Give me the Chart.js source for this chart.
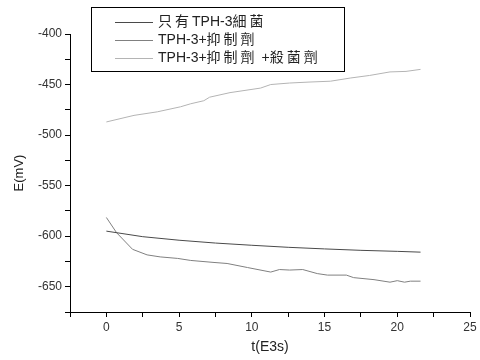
<!DOCTYPE html>
<html>
<head>
<meta charset="utf-8">
<script src="https://cdn.jsdelivr.net/npm/chart.js@4"></script>
<style>
  html, body { margin: 0; padding: 0; background: #fff; }
  #wrap { width: 480px; height: 360px; }
</style>
</head>
<body>
<div id="wrap"><canvas id="lineChart" width="480" height="360"></canvas></div>
<script>
// labels for the three runs
const seriesNames = ['只有TPH-3細菌', 'TPH-3+抑制劑', 'TPH-3+抑制劑 +殺菌劑'];

// only bacteria
const t1 = [0, 2.5, 5, 7.5, 10, 12.5, 15, 17.5, 20, 21.6];
const e1 = [-595, -600.5, -604, -606.8, -609, -611, -612.6, -614, -615, -615.8];

// + inhibitor
const t2 = [0, 0.7, 1.8, 2.8, 3.7, 4.9, 5.8, 7.4, 8.3, 9.7, 11.3, 11.9, 12.6, 13.5, 14.5, 15.2, 16.5, 17, 18.4, 19.5, 20, 20.5, 20.9, 21.6];
const e2 = [-581.5, -596.5, -613, -618.5, -620.5, -622, -624, -626, -627, -631, -635.5, -633, -633.5, -633, -637, -638.5, -638.5, -641, -643, -645.5, -644, -645.5, -644.5, -644.5];

// + inhibitor + biocide
const t3 = [0, 1.9, 3.5, 5.1, 5.8, 6.7, 7.1, 8.5, 10.6, 11.3, 12.6, 14, 15.4, 16.8, 18.1, 19.5, 20.6, 21.6];
const e3 = [-487, -480.5, -477, -472, -469, -466, -462.5, -458, -453.5, -450, -448.5, -447.5, -446.7, -443.5, -441, -437.5, -437, -435];

const lineColors = ['#4a4a4a', '#808080', '#b4b4b4'];

function toPoints(xs, ys) {
  return xs.map((x, i) => ({ x: x, y: ys[i] }));
}

const FONT = '"Liberation Sans", Arial, "Noto Sans CJK TC", sans-serif';

// legend box drawn in the upper left, like the original plot
const boxLegend = {
  id: 'boxLegend',
  afterDraw(chart) {
    const ctx = chart.ctx;
    ctx.save();
    ctx.fillStyle = '#fff';
    ctx.fillRect(91, 7, 253, 64);
    ctx.strokeStyle = '#000';
    ctx.lineWidth = 1;
    ctx.strokeRect(91.5, 7.5, 253, 64);
    const rows = [22, 40, 58];
    ctx.font = '14px ' + FONT;
    ctx.textBaseline = 'middle';
    seriesNames.forEach((name, i) => {
      ctx.strokeStyle = lineColors[i];
      ctx.beginPath();
      ctx.moveTo(115, rows[i] + 0.5);
      ctx.lineTo(153, rows[i] + 0.5);
      ctx.stroke();
      ctx.fillStyle = '#222';
      // the CJK glyphs in the original are spaced out a bit
      let x = 158;
      for (const ch of name) {
        ctx.fillText(ch, x, rows[i]);
        x += ctx.measureText(ch).width + (ch.charCodeAt(0) > 0x2e80 ? 3 : 0);
      }
    });
    ctx.restore();
  }
};

const myLineChart = document.getElementById('lineChart').getContext('2d');

new Chart(myLineChart, {
  type: 'scatter',
  data: {
    datasets: [
      { label: seriesNames[0], data: toPoints(t1, e1) },
      { label: seriesNames[1], data: toPoints(t2, e2) },
      { label: seriesNames[2], data: toPoints(t3, e3) }
    ].map((d, i) => Object.assign(d, {
      showLine: true,
      borderColor: lineColors[i],
      backgroundColor: lineColors[i],
      borderWidth: 1,
      pointRadius: 0,
      tension: 0
    }))
  },
  options: {
    responsive: false,
    animation: false,
    layout: { padding: { top: 34, right: 10, left: 0, bottom: 0 } },
    plugins: {
      legend: { display: false },
      tooltip: { enabled: false }
    },
    scales: {
      x: {
        type: 'linear',
        min: -2.5,
        max: 25,
        border: { display: true, color: '#000', width: 1 },
        grid: { display: true, drawOnChartArea: false, drawTicks: true, tickLength: 5, color: '#000' },
        ticks: {
          stepSize: 2.5,
          autoSkip: false,
          maxRotation: 0,
          color: '#333',
          font: { family: FONT, size: 12 },
          padding: 3,
          callback: function(v) { return (v % 5 === 0) ? String(v) : ''; }
        },
        title: { display: true, text: 't(E3s)', color: '#222', font: { family: FONT, size: 14 }, padding: { top: 2 } },
        afterFit: function(scale) { scale.height = 48; }
      },
      y: {
        type: 'linear',
        min: -675,
        max: -400,
        border: { display: true, color: '#000', width: 1 },
        grid: { display: true, drawOnChartArea: false, drawTicks: true, tickLength: 5, color: '#000' },
        ticks: {
          stepSize: 25,
          autoSkip: false,
          color: '#333',
          font: { family: FONT, size: 12 },
          padding: 3,
          callback: function(v) { return (v % 50 === 0) ? String(v) : ''; }
        },
        title: { display: true, text: 'E(mV)', color: '#222', font: { family: FONT, size: 13 }, padding: { top: 12, bottom: 0 } },
        afterFit: function(scale) { scale.width = 70; }
      }
    }
  },
  plugins: [boxLegend]
});
</script>
</body>
</html>
